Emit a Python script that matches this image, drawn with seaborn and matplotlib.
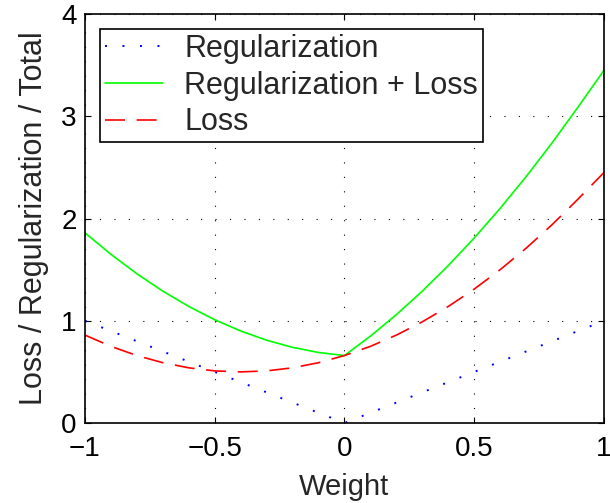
import pandas as pd
import matplotlib.pyplot as plt
import seaborn as sns

# values
weight = [-1.0, -0.9, -0.8, -0.7, -0.6, -0.5, -0.4, -0.3, -0.2, -0.1, 0.0,
          0.1, 0.2, 0.3, 0.4, 0.5, 0.6, 0.7, 0.8, 0.9, 1.0]
regularization = [1.0, 0.9, 0.8, 0.7, 0.6, 0.5, 0.4, 0.3, 0.2, 0.1, 0.0,
                  0.1, 0.2, 0.3, 0.4, 0.5, 0.6, 0.7, 0.8, 0.9, 1.0]
loss = [0.86, 0.75, 0.66, 0.59, 0.54, 0.51, 0.50, 0.51, 0.54, 0.59, 0.66,
        0.75, 0.86, 0.99, 1.14, 1.31, 1.50, 1.71, 1.94, 2.19, 2.45]
total = [1.86, 1.65, 1.46, 1.29, 1.14, 1.01, 0.90, 0.81, 0.74, 0.69, 0.66,
         0.85, 1.06, 1.29, 1.54, 1.81, 2.10, 2.41, 2.74, 3.09, 3.45]

xticks = [-1, -0.5, 0, 0.5, 1]
xtick_labels = ['\u22121', '\u22120.5', '0', '0.5', '1']
yticks = [0, 1, 2, 3, 4]

df = pd.DataFrame({'weight': weight,
                   'regularization': regularization,
                   'loss': loss,
                   'total': total})

sns.set_style('ticks')
plt.rcParams['font.family'] = ['Liberation Sans', 'DejaVu Sans']

fig = plt.figure(figsize=(6.1, 5.03), dpi=100)
ax = fig.add_axes([0.1393, 0.159, 0.8508, 0.813])

sns.lineplot(data=df, x='weight', y='regularization', ax=ax,
             color='#0000ff', linewidth=1.4, linestyle=(0, (1, 8)),
             label='Regularization')
sns.lineplot(data=df, x='weight', y='total', ax=ax,
             color='#00ff00', linewidth=1.2,
             label='Regularization + Loss')
sns.lineplot(data=df, x='weight', y='loss', ax=ax,
             color='#ff0000', linewidth=1.2, linestyle=(0, (12, 7)),
             label='Loss')

ax.set_xlim(-1, 1)
ax.set_ylim(0, 4)
ax.set_xticks(xticks)
ax.set_xticklabels(xtick_labels)
ax.set_yticks(yticks)

ax.grid(True, color='black', linestyle=(0, (1, 12)), linewidth=0.8)

for side in ['top', 'right', 'bottom', 'left']:
    ax.spines[side].set_visible(True)
    ax.spines[side].set_color('black')
    ax.spines[side].set_linewidth(1.2)

ax.tick_params(axis='both', direction='in', length=4, width=0.8,
               top=True, right=True, labelsize=20, colors='black')
ax.tick_params(axis='x', pad=9)
ax.tick_params(axis='y', pad=6)

ax.set_xlabel('Weight', fontsize=21, labelpad=8)
ax.set_ylabel('Loss / Regularization / Total', fontsize=22, labelpad=9)

leg = ax.legend(loc='upper left', fontsize=22, frameon=True, fancybox=False,
                edgecolor='black', framealpha=1, borderaxespad=0.5,
                borderpad=0.15, labelspacing=0.22, handlelength=1.9,
                handletextpad=0.7)
leg.get_frame().set_linewidth(1.2)

plt.savefig('out.png', dpi=100)
